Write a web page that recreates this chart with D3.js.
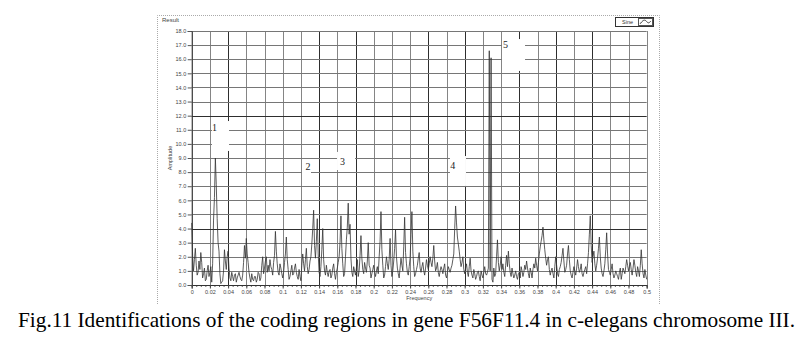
<!DOCTYPE html>
<html>
<head>
<meta charset="utf-8">
<script src="https://cdn.jsdelivr.net/npm/d3@7"></script>
<style>
  body { margin: 0; background: #fff; }
  svg { display: block; }
</style>
</head>
<body>
<div id="chart"></div>
<script>
// spectrum amplitude, one value per frequency bin (bin width 0.001), 20 bins per row
const freqStep = 0.001;
const amplitude = [
  4.4, 2.1, 1.0, 1.8, 2.6, 1.4, 0.7, 0.9, 1.7, 1.1, 2.3, 1.6, 0.5, 0.8, 1.2, 0.3, 0.4, 1.0, 1.4, 0.6,
  0.9, 1.3, 0.2, 1.5, 4.6, 6.2, 9.0, 7.1, 4.7, 3.0, 2.4, 0.8, 0.1, 0.2, 0.3, 1.0, 2.5, 1.7, 1.1, 2.0,
  2.4, 1.2, 0.5, 0.3, 0.9, 0.6, 0.3, 0.7, 0.8, 0.2, 0.5, 0.7, 0.9, 0.6, 0.4, 0.3, 0.7, 1.6, 2.8, 1.9,
  3.3, 2.2, 1.6, 0.9, 0.5, 0.2, 0.8, 0.4, 0.3, 0.6, 0.6, 0.2, 0.4, 0.9, 0.8, 0.3, 0.5, 1.4, 2.0, 0.8,
  1.2, 1.7, 2.0, 0.9, 1.4, 1.0, 1.8, 1.3, 1.1, 0.7, 1.6, 2.1, 3.8, 2.4, 1.5, 0.9, 0.7, 1.5, 1.2, 0.8,
  0.5, 0.9, 1.6, 2.2, 3.4, 1.8, 1.1, 0.4, 0.6, 1.0, 1.4, 0.7, 0.8, 1.2, 1.5, 0.9, 0.6, 0.4, 1.1, 0.6,
  0.3, 1.4, 2.2, 1.5, 1.0, 1.8, 2.6, 1.3, 0.8, 1.1, 1.7, 2.0, 2.9, 4.0, 5.3, 2.8, 1.9, 3.1, 4.7, 2.2,
  0.9, 0.6, 1.3, 2.5, 4.0, 1.8, 1.0, 0.7, 1.4, 0.9, 0.6, 1.0, 1.1, 0.5, 0.7, 1.2, 1.5, 0.8, 0.4, 0.9,
  1.2, 1.6, 2.0, 3.0, 4.9, 2.6, 1.5, 0.6, 0.8, 2.0, 3.2, 4.1, 5.8, 3.6, 4.3, 1.9, 0.9, 0.6, 1.3, 1.0,
  0.7, 1.2, 1.8, 0.6, 1.0, 2.1, 3.5, 1.9, 1.1, 0.8, 1.6, 1.2, 0.9, 1.7, 3.0, 1.4, 1.2, 0.5, 0.8, 1.1,
  1.4, 0.9, 0.6, 1.0, 1.3, 0.8, 2.0, 3.1, 5.2, 2.5, 1.4, 0.5, 0.7, 1.3, 2.0, 1.5, 1.1, 1.8, 3.3, 1.4,
  0.6, 1.0, 1.7, 2.6, 3.9, 2.0, 1.2, 0.8, 0.5, 1.2, 1.9, 1.4, 1.0, 2.7, 4.8, 2.3, 1.5, 0.9, 0.7, 1.3,
  1.9, 3.6, 5.2, 2.4, 1.3, 0.6, 0.8, 1.1, 1.4, 1.9, 2.3, 1.2, 0.9, 1.3, 1.6, 1.0, 0.7, 1.2, 1.8, 1.4,
  1.1, 1.5, 2.0, 1.6, 1.3, 1.9, 2.8, 1.7, 1.0, 1.2, 1.6, 0.9, 0.6, 1.0, 1.3, 1.1, 0.8, 1.2, 1.5, 0.7,
  0.5, 0.9, 1.3, 1.1, 0.9, 1.2, 1.4, 1.8, 2.2, 4.0, 5.6, 4.4, 3.4, 2.9, 2.4, 1.8, 1.3, 1.6, 2.0, 1.1,
  0.8, 1.2, 1.5, 0.9, 0.6, 1.3, 1.9, 1.0, 0.7, 0.5, 1.1, 0.8, 0.4, 0.6, 0.9, 1.0, 0.6, 0.3, 1.0, 0.7,
  0.5, 0.9, 1.3, 0.8, 0.7, 0.9, 1.2, 16.6, 1.0, 16.1, 0.4, 0.2, 1.2, 0.6, 0.8, 2.0, 3.2, 1.6, 1.0, 1.4,
  2.0, 1.1, 1.5, 0.9, 0.6, 1.4, 2.1, 1.3, 2.4, 1.5, 0.9, 0.6, 1.2, 0.8, 0.5, 0.7, 1.0, 0.6, 0.4, 0.8,
  0.9, 0.5, 1.3, 1.0, 0.6, 0.9, 1.4, 1.1, 1.7, 1.2, 0.8, 0.5, 1.2, 0.9, 0.5, 1.1, 1.5, 1.2, 1.9, 1.4,
  1.0, 1.6, 2.2, 2.7, 3.1, 3.5, 4.1, 3.2, 2.5, 1.9, 1.4, 1.8, 2.0, 1.1, 0.7, 1.0, 1.2, 0.8, 0.5, 1.3,
  2.0, 1.4, 0.8, 0.6, 1.1, 1.3, 1.6, 2.1, 2.6, 1.7, 0.9, 1.1, 1.4, 2.2, 2.8, 1.8, 1.0, 0.7, 0.5, 0.9,
  1.3, 1.0, 0.7, 1.2, 1.8, 1.3, 0.9, 1.1, 1.5, 0.8, 0.6, 0.9, 1.1, 1.3, 0.8, 1.5, 2.3, 3.6, 4.9, 2.8,
  1.6, 2.0, 2.4, 1.5, 1.0, 1.4, 1.9, 2.6, 3.4, 2.0, 1.2, 0.8, 0.6, 1.0, 1.5, 2.5, 3.7, 2.2, 1.1, 0.9,
  0.7, 1.1, 1.5, 0.8, 0.5, 0.7, 1.0, 0.8, 0.6, 0.4, 0.9, 1.2, 0.4, 0.8, 1.2, 1.0, 0.8, 1.3, 1.8, 1.4,
  1.0, 1.3, 1.6, 1.1, 0.7, 1.2, 1.8, 1.4, 0.9, 0.6, 1.3, 1.0, 0.6, 1.4, 2.5, 1.5, 0.8, 0.5, 1.1, 0.7,
  0.4
];

const yTickValues = [0, 1, 2, 3, 4, 5, 6, 7, 8, 9, 10, 11, 12, 13, 14, 15, 16, 17, 18];
const xTickValues = [0, 0.02, 0.04, 0.06, 0.08, 0.1, 0.12, 0.14, 0.16, 0.18, 0.2, 0.22, 0.24,
  0.26, 0.28, 0.3, 0.32, 0.34, 0.36, 0.38, 0.4, 0.42, 0.44, 0.46, 0.48, 0.5];
// grid lines that show up darker in the figure
const darkXGrid = [0.04, 0.14, 0.18, 0.26, 0.3, 0.36, 0.4, 0.44];
const darkYGrid = [4, 12];

// pasted-on region numbers with their white patches (data units)
const annotations = [
  { text: "1", f: 0.0251, v: 11.13, box: [0.0223, 0.0410, 9.50, 11.62] },
  { text: "2", f: 0.1278, v: 8.43, box: [0.1212, 0.1311, 7.37, 8.93] },
  { text: "3", f: 0.1657, v: 8.75, box: [0.1597, 0.1795, 8.15, 9.43] },
  { text: "4", f: 0.2868, v: 8.50, box: [0.2838, 0.3014, 7.02, 9.14] },
  { text: "5", f: 0.3448, v: 17.04, box: [0.3410, 0.3663, 15.17, 17.43] }
];

const caption = "Fig.11 Identifications of the coding regions in gene F56F11.4 in c-elegans chromosome III.";

const width = 811, height = 338;
const plot = { left: 191.7, right: 646.7, top: 31, bottom: 285 };

const svg = d3.select("#chart").append("svg")
  .attr("width", width)
  .attr("height", height);

const x = d3.scaleLinear().domain([0, 0.5]).range([plot.left, plot.right]);
const y = d3.scaleLinear().domain([0, 18]).range([plot.bottom, plot.top]);

// outer dotted frame of the graph window
svg.append("path")
  .attr("d", "M157.5,304 V15.5 H659.5 V304")
  .attr("fill", "none")
  .attr("stroke", "#aaa")
  .attr("stroke-dasharray", "1,1");

svg.append("text")
  .attr("x", 162).attr("y", 22)
  .attr("font-family", "Liberation Sans, Arial, sans-serif")
  .attr("font-size", 6)
  .attr("fill", "#444")
  .text("Result");

// legend
const legend = svg.append("g").attr("transform", "translate(615,17)");
legend.append("rect")
  .attr("x", 0.5).attr("y", 0.5).attr("width", 38).attr("height", 9)
  .attr("fill", "#fff").attr("stroke", "#333");
legend.append("text")
  .attr("x", 7).attr("y", 7)
  .attr("font-family", "Liberation Sans, Arial, sans-serif")
  .attr("font-size", 5.5)
  .attr("fill", "#333")
  .text("Sine");
legend.append("rect")
  .attr("x", 23.5).attr("y", 1.5).attr("width", 14).attr("height", 7)
  .attr("fill", "#fff").attr("stroke", "#555");
legend.append("path")
  .attr("d", d3.line().curve(d3.curveBasis)([[25, 7], [28, 3], [31, 3], [33, 7], [36, 4]]))
  .attr("fill", "none").attr("stroke", "#444");

// grid
const grid = svg.append("g");
grid.selectAll(".gx")
  .data(xTickValues)
  .join("line")
  .attr("x1", d => Math.round(x(d)) + 0.5).attr("x2", d => Math.round(x(d)) + 0.5)
  .attr("y1", plot.top).attr("y2", plot.bottom)
  .attr("stroke", d => darkXGrid.includes(d) ? "#2e2e2e" : "#858585")
  .attr("stroke-width", 1);
grid.selectAll(".gy")
  .data(yTickValues)
  .join("line")
  .attr("x1", plot.left).attr("x2", plot.right)
  .attr("y1", d => Math.round(y(d)) + 0.5).attr("y2", d => Math.round(y(d)) + 0.5)
  .attr("stroke", d => darkYGrid.includes(d) ? "#2e2e2e" : "#767676")
  .attr("stroke-width", 1);

// white patches behind the region numbers
svg.selectAll(".patch")
  .data(annotations)
  .join("rect")
  .attr("x", d => x(d.box[0]))
  .attr("y", d => y(d.box[3]))
  .attr("width", d => x(d.box[1]) - x(d.box[0]))
  .attr("height", d => y(d.box[2]) - y(d.box[3]))
  .attr("fill", "#fff");

// spectrum
const line = d3.line()
  .x((d, i) => x(i * freqStep))
  .y(d => y(d));

svg.append("path")
  .datum(amplitude)
  .attr("d", line)
  .attr("fill", "none")
  .attr("stroke", "#333")
  .attr("stroke-width", 0.8);

svg.selectAll(".num")
  .data(annotations)
  .join("text")
  .attr("x", d => x(d.f))
  .attr("y", d => y(d.v))
  .attr("dy", "0.35em")
  .attr("text-anchor", "middle")
  .attr("font-family", "Liberation Serif, Times New Roman, serif")
  .attr("font-size", 10)
  .attr("fill", "#222")
  .text(d => d.text);

// axes
const axisFont = "Liberation Sans, Arial, sans-serif";
const yAxis = svg.append("g")
  .attr("transform", `translate(${plot.left},0)`)
  .call(d3.axisLeft(y).tickValues(yTickValues).tickFormat(d3.format(".1f")).tickSize(4).tickPadding(1.5));
yAxis.select(".domain").attr("stroke", "#333");
yAxis.selectAll("line").attr("stroke", "#555");
yAxis.selectAll("text").attr("font-family", axisFont).attr("font-size", 5.5).attr("fill", "#444");

const minorTicks = d3.range(0, 0.5001, 0.005);
svg.append("g")
  .attr("transform", `translate(0,${plot.bottom})`)
  .call(d3.axisBottom(x).tickValues(minorTicks).tickFormat("").tickSize(2))
  .call(g => g.select(".domain").remove())
  .selectAll("line").attr("stroke", "#666");

const xAxis = svg.append("g")
  .attr("transform", `translate(0,${plot.bottom})`)
  .call(d3.axisBottom(x).tickValues(xTickValues).tickFormat(d3.format("~g")).tickSize(3.5).tickPadding(1.5));
xAxis.select(".domain").attr("stroke", "#333");
xAxis.selectAll("line").attr("stroke", "#444");
xAxis.selectAll("text").attr("font-family", axisFont).attr("font-size", 5.5).attr("fill", "#444");

svg.append("text")
  .attr("x", (plot.left + plot.right) / 2)
  .attr("y", 300)
  .attr("text-anchor", "middle")
  .attr("font-family", axisFont)
  .attr("font-size", 5.5)
  .attr("fill", "#444")
  .text("Frequency");

svg.append("text")
  .attr("transform", `translate(172,${(plot.top + plot.bottom) / 2}) rotate(-90)`)
  .attr("text-anchor", "middle")
  .attr("font-family", axisFont)
  .attr("font-size", 5.5)
  .attr("fill", "#444")
  .text("Amplitude");

// figure caption
svg.append("text")
  .attr("x", 18)
  .attr("y", 327)
  .attr("font-family", "Liberation Serif, Times New Roman, serif")
  .attr("font-size", 21.5)
  .attr("textLength", 777)
  .attr("lengthAdjust", "spacingAndGlyphs")
  .attr("fill", "#000")
  .text(caption);
</script>
</body>
</html>
